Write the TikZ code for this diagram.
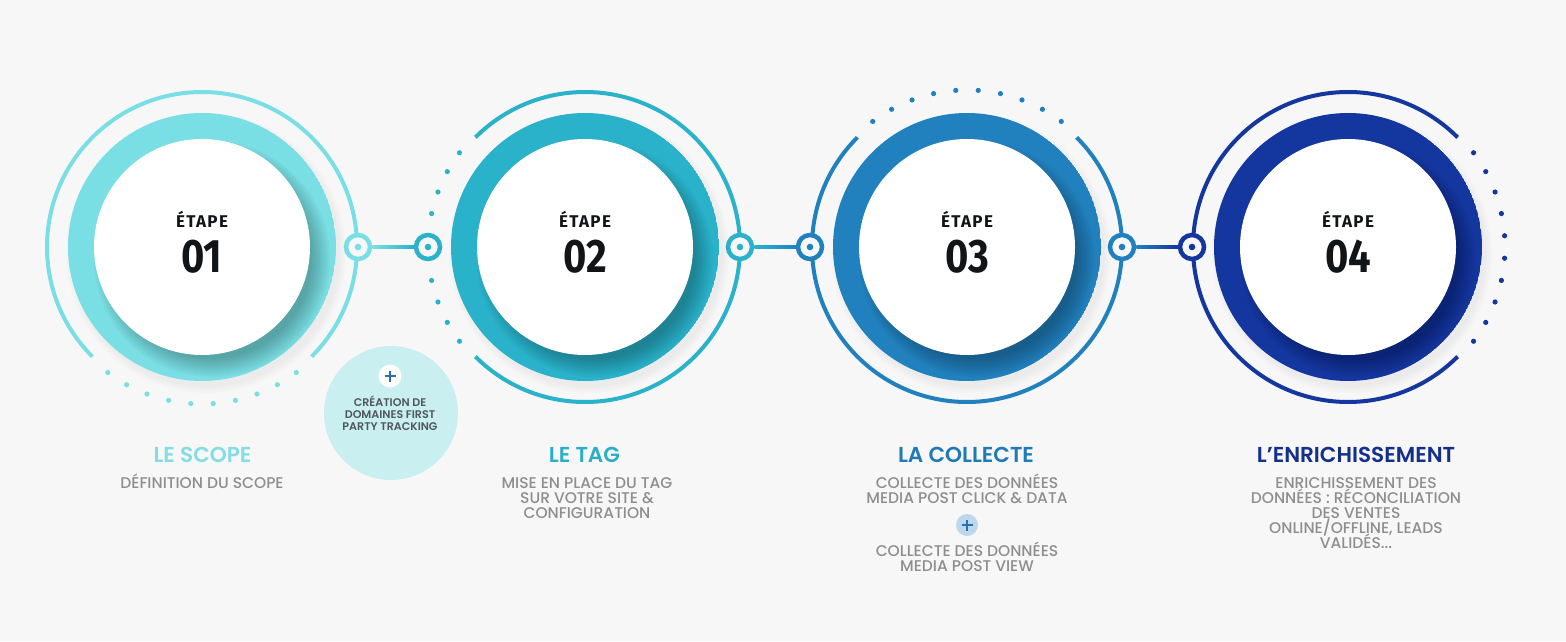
\documentclass[tikz,border=0pt]{standalone}
\usepackage{fontspec}
\setmainfont{Poppins}
\newfontfamily\pmed{Poppins Medium}
\newfontfamily\psemi{Poppins SemiBold}
\newfontfamily\etfont{Fira Sans}[LetterSpace=8]
\newfontfamily\numfont{Fira Sans}[FakeStretch=0.85]
\usetikzlibrary{calc}
\definecolor{bg}{HTML}{F7F7F7}
\definecolor{cA}{HTML}{7ADFE4}
\definecolor{cB}{HTML}{2AB2CB}
\definecolor{cC}{HTML}{2181BF}
\definecolor{cD}{HTML}{14369F}
\definecolor{tA}{HTML}{84DDE3}
\definecolor{tB}{HTML}{2AAFC7}
\definecolor{tC}{HTML}{1F7BB8}
\definecolor{tD}{HTML}{142F8C}
\definecolor{gr}{HTML}{8E8E8E}
\definecolor{bub}{HTML}{C9EFF1}
\definecolor{bubtxt}{HTML}{50565B}
\definecolor{plusb}{HTML}{2C6EB3}
\definecolor{pluscirc}{HTML}{BCD8ED}
\definecolor{ink}{HTML}{121518}
% #1 name, #2 x, #3 colour, #4 arc start, #5 arc end, #6 dot angles
\newcommand\mkouter[6]{%
  \coordinate (#1) at (#2,394);
  \draw[#3, line width=4pt] ($(#1)+(#4:155)$) arc[start angle=#4, end angle=#5, radius=155];
  \foreach \a in {#6} {\fill[#3] ($(#1)+(\a:157)$) circle (2.6);}
}
% #1 centre coordinate, #2 colour, #3 white node name, #4 number
\newcommand\mkdisc[4]{%
  \foreach \r in {134,136,138,140} {\fill[black, opacity=0.012] ($(#1)+(4,-6)$) circle (\r);}
  \begin{scope}
    \clip (#1) circle (134);
    \fill[#2] (#1) circle (134);
    \foreach \r in {100,102,...,118} {\fill[black, opacity=0.026] ($(#1)+(10,-12)$) circle (\r);}
  \end{scope}
  \node[whitec] (#3) at (#1) {};
  \node[etp] (#3e) at ($(#1)+(0,-228+247)$) {ÉTAPE};
  \node[nmb] (#3n) at ($(#1)+(0,-272+247)$) {#4};
}
\begin{document}
\begin{tikzpicture}[x=1pt,y=1pt,
  whitec/.style={circle, fill=white, minimum size=216pt, inner sep=0pt},
  etp/.style={anchor=base, text=ink, inner sep=0pt, font=\etfont\bfseries\fontsize{17}{17}\selectfont},
  nmb/.style={anchor=base, text=ink, inner sep=0pt, font=\numfont\bfseries\fontsize{47}{47}\selectfont},
  conn/.style={circle, draw=#1, line width=4.5pt, fill=bg, minimum size=24pt, inner sep=0pt},
  ttl/.style={anchor=base, inner sep=0pt, font=\psemi\fontsize{21.6}{23}\selectfont},
  dsc/.style={anchor=base, inner sep=0pt, text=gr, font=\pmed\fontsize{15.5}{15}\selectfont},
  btx/.style={anchor=base, inner sep=0pt, text=bubtxt, font=\psemi\fontsize{11.1}{11}\selectfont},
  plusc/.style={circle, fill=#1, minimum size=23pt, inner sep=0pt}]
\fill[bg] (0,0) rectangle (1566,641);
\useasboundingbox (0,0) rectangle (1566,641);

% outer arcs and dotted arcs
\mkouter{c1}{202}{cA}{-45}{225}{233.1,241.3,249.5,257.7,265.9,274.1,282.3,290.5,298.7,306.9}
\mkouter{c2}{585}{cB}{-135}{135}{143.1,151.3,159.5,167.7,192.3,200.5,208.7,216.9}
\mkouter{c3}{967}{cC}{135}{405}{53.1,61.3,69.5,77.7,85.9,94.1,102.3,110.5,118.7,126.9}
\mkouter{c4}{1348}{cD}{45}{315}{-36.9,-28.7,-20.5,-12.3,-4.1,4.1,12.3,20.5,28.7,36.9}

% connector rings
\node[conn=cA] (r1b) at ($(c1)+(156,0)$) {};
\node[conn=cB] (r2a) at ($(c2)+(-157,0)$) {};
\node[conn=cB] (r2b) at ($(c2)+(155,0)$) {};
\node[conn=cC] (r3a) at ($(c3)+(-157,0)$) {};
\node[conn=cC] (r3b) at ($(c3)+(155,0)$) {};
\node[conn=cD] (r4a) at ($(c4)+(-156,0)$) {};
\shade[left color=cA, right color=cB] ([yshift=-1.8pt]r1b.east) rectangle ([yshift=1.8pt]r2a.west);
\shade[left color=cB, right color=cC] ([yshift=-1.8pt]r2b.east) rectangle ([yshift=1.8pt]r3a.west);
\shade[left color=cC, right color=cD] ([yshift=-1.8pt]r3b.east) rectangle ([yshift=1.8pt]r4a.west);
\fill[cA] (r1b) circle (3.3);
\fill[cB] (r2a) circle (3.3);
\fill[cB] (r2b) circle (3.3);
\fill[cC] (r3a) circle (3.3);
\fill[cC] (r3b) circle (3.3);
\fill[cD] (r4a) circle (3.3);

% main discs
\mkdisc{c1}{cA}{s1}{01}
\mkdisc{c2}{cB}{s2}{02}
\mkdisc{c3}{cC}{s3}{03}
\mkdisc{c4}{cD}{s4}{04}

% bubble
\node[circle, fill=bub, minimum size=134pt, inner sep=0pt] (bub) at (391,641-413) {};
\node[plusc=white] (bp) at (390,641-376) {};
\draw[plusb, line width=2.6pt] ($(bp)+(-5.5,0)$) -- ($(bp)+(5.5,0)$) ($(bp)+(0,-5.5)$) -- ($(bp)+(0,5.5)$);
\node[btx] (b1) at (390,641-406.5) {CRÉATION DE};
\node[btx] (b2) at (390,641-418.5) {DOMAINES FIRST};
\node[btx] (b3) at (390,641-430.5) {PARTY TRACKING};

% titles
\node[ttl, text=tA] (t1) at (202.5,641-462) {LE SCOPE};
\node[ttl, text=tB] (t2) at (584.5,641-462) {LE TAG};
\node[ttl, text=tC] (t3) at (966,641-462) {LA COLLECTE};
\node[ttl, text=tD] (t4) at (1356,641-462) {L’ENRICHISSEMENT};

% descriptions
\node[dsc] (d1a) at (202,641-488.5) {DÉFINITION DU SCOPE};
\node[dsc] (d2a) at (587,641-488.5) {MISE EN PLACE DU TAG};
\node[dsc] (d2b) at (587,641-503.5) {SUR VOTRE SITE \&};
\node[dsc] (d2c) at (587,641-518.5) {CONFIGURATION};
\node[dsc] (d3a) at (967,641-488.5) {COLLECTE DES DONNÉES};
\node[dsc] (d3b) at (967,641-503.5) {MEDIA POST CLICK \& DATA};
\node[plusc=pluscirc, minimum size=22pt] (p3) at (967,641-525) {};
\draw[plusb, line width=2.6pt] ($(p3)+(-5.5,0)$) -- ($(p3)+(5.5,0)$) ($(p3)+(0,-5.5)$) -- ($(p3)+(0,5.5)$);
\node[dsc] (d3c) at (967,641-556.5) {COLLECTE DES DONNÉES};
\node[dsc] (d3d) at (967,641-571.5) {MEDIA POST VIEW};
\node[dsc] (d4a) at (1356,641-488.5) {ENRICHISSEMENT DES};
\node[dsc] (d4b) at (1356,641-503.5) {DONNÉES : RÉCONCILIATION};
\node[dsc] (d4c) at (1356,641-518.5) {DES VENTES};
\node[dsc] (d4d) at (1356,641-533.5) {ONLINE/OFFLINE, LEADS};
\node[dsc] (d4e) at (1356,641-548.5) {VALIDÉS...};
\end{tikzpicture}
\end{document}
